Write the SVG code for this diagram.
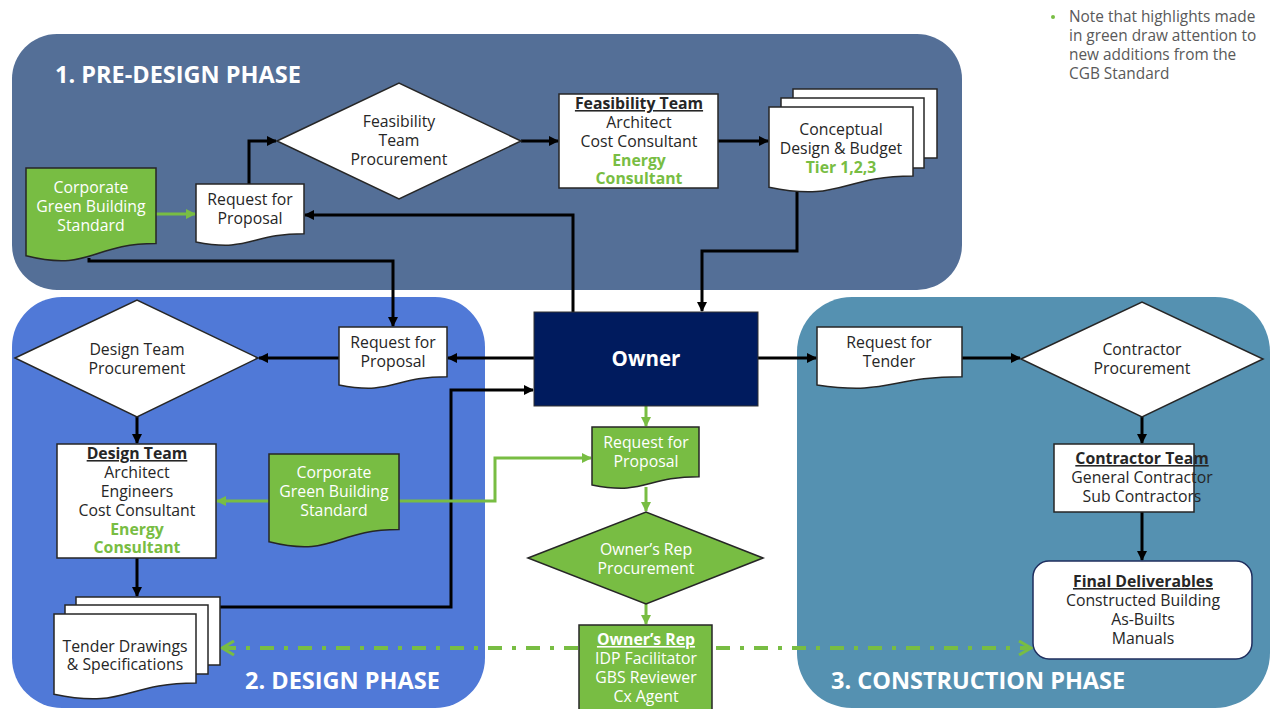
<svg xmlns="http://www.w3.org/2000/svg" width="1270" height="709" viewBox="0 0 1270 709">
  <defs>
    <marker id="arrow" viewBox="0 0 10 10" refX="9" refY="5" markerWidth="10" markerHeight="10" markerUnits="userSpaceOnUse" orient="auto">
      <path d="M0,0 L10,5 L0,10 z" fill="#000"/>
    </marker>
    <marker id="arrowGreen" viewBox="0 0 10 10" refX="9" refY="5" markerWidth="10" markerHeight="10" markerUnits="userSpaceOnUse" orient="auto">
      <path d="M0,0 L10,5 L0,10 z" fill="#78bd43"/>
    </marker>
    <marker id="chevronGreen" viewBox="0 0 16 16" refX="14" refY="8" markerWidth="16" markerHeight="16" markerUnits="userSpaceOnUse" orient="auto-start-reverse">
      <path d="M2,1 L14,8 L2,15" fill="none" stroke="#78bd43" stroke-width="3"/>
    </marker>
  </defs>
  <style>
    text { font-family: "Open Sans", "Liberation Sans", sans-serif; font-size: 15.8px; fill: #262626; text-anchor: middle; }
    .phase { font-size: 23.5px; font-weight: bold; fill: #ffffff; text-anchor: start; }
    .head { font-weight: bold; text-decoration: underline; }
    .hl { font-weight: bold; fill: #78bd43; }
    .wt { fill: #ffffff; }
    .note { font-size: 15.4px; fill: #595959; text-anchor: start; }
    .shape { fill: #ffffff; stroke: #262626; stroke-width: 1.5; }
    .gshape { fill: #78bd43; stroke: #262626; stroke-width: 1.5; }
    .flow { fill: none; stroke: #000; stroke-width: 3; marker-end: url(#arrow); }
    .gflow { fill: none; stroke: #78bd43; stroke-width: 3; marker-end: url(#arrowGreen); }
    .link { fill: none; stroke: #78bd43; stroke-width: 4; stroke-dasharray: 14 10 4 10; marker-start: url(#chevronGreen); marker-end: url(#chevronGreen); }
  </style>

  <rect width="1270" height="709" fill="#ffffff"/>

  <!-- phase panels -->
  <g id="phases">
    <rect x="12" y="34" width="950" height="256" rx="45" fill="#546f97"/>
    <rect x="12" y="297" width="473" height="411" rx="50" fill="#5079d7"/>
    <rect x="797" y="297" width="473" height="411" rx="55" fill="#5591b1"/>
    <text class="phase" x="55" y="83">1. PRE-DESIGN PHASE</text>
    <text class="phase" x="245" y="689">2. DESIGN PHASE</text>
    <text class="phase" x="831" y="689">3. CONSTRUCTION PHASE</text>
  </g>

  <!-- legend note -->
  <g id="note">
    <circle cx="1053" cy="17" r="2" fill="#78bd43"/>
    <text class="note" x="1069" y="22">Note that highlights made<tspan x="1069" dy="19">in green draw attention to</tspan><tspan x="1069" dy="19">new additions from the</tspan><tspan x="1069" dy="19">CGB Standard</tspan></text>
  </g>

  <!-- connectors -->
  <g id="connectors">
    <path class="link" d="M222,648 H1031"/>
    <path class="flow" d="M249,184 V141 H276"/>
    <path class="flow" d="M521,141 H558"/>
    <path class="flow" d="M718,141 H768"/>
    <path class="flow" d="M797,188 V251 H702 V311"/>
    <path class="flow" d="M573,312 V215 H305"/>
    <path class="flow" d="M89,258 V261 H393 V326"/>
    <path class="flow" d="M534,358 H448"/>
    <path class="flow" d="M339,358 H259"/>
    <path class="flow" d="M137,417 V443"/>
    <path class="flow" d="M137,558 V596"/>
    <path class="flow" d="M220,607 H451 V390 H533"/>
    <path class="flow" d="M758,358 H816"/>
    <path class="flow" d="M962,358 H1020"/>
    <path class="flow" d="M1142,417 V443"/>
    <path class="flow" d="M1142,512 V560"/>
    <path class="gflow" d="M156,214 H195"/>
    <path class="gflow" d="M269,501 H217"/>
    <path class="gflow" d="M399,501 H495 V458 H591"/>
    <path class="gflow" d="M646,406 V426"/>
    <path class="gflow" d="M646,487 V511"/>
    <path class="gflow" d="M646,604 V624"/>
  </g>

  <!-- pre-design phase nodes -->
  <g id="cgbs-predesign">
    <path class="gshape" d="M26,168 H156 V243.4 C91,243.4 91,272 26,255.8 Z"/>
    <text class="wt" x="91" y="193">Corporate<tspan x="91" dy="19">Green Building</tspan><tspan x="91" dy="19">Standard</tspan></text>
  </g>
  <g id="rfp-predesign">
    <path class="shape" d="M196,184 H304 V233.7 C250,233.7 250,252.6 196,241.9 Z"/>
    <text x="250" y="205">Request for<tspan x="250" dy="19">Proposal</tspan></text>
  </g>
  <g id="feasibility-procurement">
    <polygon class="shape" points="277,141 399,83 521,141 399,199"/>
    <text x="399" y="127">Feasibility<tspan x="399" dy="19">Team</tspan><tspan x="399" dy="19">Procurement</tspan></text>
  </g>
  <g id="feasibility-team">
    <rect class="shape" x="559" y="94" width="159" height="94"/>
    <text x="639" y="109"><tspan class="head">Feasibility Team</tspan><tspan x="639" dy="19">Architect</tspan><tspan x="639" dy="19">Cost Consultant</tspan><tspan class="hl" x="639" dy="19">Energy</tspan><tspan class="hl" x="639" dy="18">Consultant</tspan></text>
  </g>
  <g id="conceptual-design">
    <rect class="shape" x="793" y="89" width="144" height="69"/>
    <rect class="shape" x="781" y="98" width="143" height="70"/>
    <path class="shape" d="M769,107 H913 V176 C841,176 841,202.2 769,187.3 Z"/>
    <text x="841" y="135">Conceptual<tspan x="841" dy="19">Design &amp; Budget</tspan><tspan class="hl" x="841" dy="19">Tier 1,2,3</tspan></text>
  </g>

  <!-- owner -->
  <g id="owner">
    <rect x="534" y="312" width="224" height="94" fill="#001b5e" stroke="#333" stroke-width="1"/>
    <text x="646" y="366" style="font-size:20.5px;font-weight:bold;fill:#ffffff">Owner</text>
  </g>

  <!-- design phase nodes -->
  <g id="rfp-design">
    <path class="shape" d="M339,327 H447 V376.7 C393,376.7 393,395.6 339,384.9 Z"/>
    <text x="393" y="348">Request for<tspan x="393" dy="19">Proposal</tspan></text>
  </g>
  <g id="design-procurement">
    <polygon class="shape" points="15,358 137,300 258,358 137,417"/>
    <text x="137" y="355">Design Team<tspan x="137" dy="19">Procurement</tspan></text>
  </g>
  <g id="design-team">
    <rect class="shape" x="57" y="444" width="159" height="114"/>
    <text x="137" y="459"><tspan class="head">Design Team</tspan><tspan x="137" dy="19">Architect</tspan><tspan x="137" dy="19">Engineers</tspan><tspan x="137" dy="19">Cost Consultant</tspan><tspan class="hl" x="137" dy="19">Energy</tspan><tspan class="hl" x="137" dy="18">Consultant</tspan></text>
  </g>
  <g id="cgbs-design">
    <path class="gshape" d="M269,454 H399 V529.4 C334,529.4 334,558 269,541.8 Z"/>
    <text class="wt" x="334" y="478">Corporate<tspan x="334" dy="19">Green Building</tspan><tspan x="334" dy="19">Standard</tspan></text>
  </g>
  <g id="tender-drawings">
    <rect class="shape" x="76" y="597" width="144" height="68"/>
    <rect class="shape" x="65" y="605" width="143" height="69"/>
    <path class="shape" d="M54,614 H196 V683 C125,683 125,709.2 54,694.3 Z"/>
    <text x="125" y="652">Tender Drawings<tspan x="125" dy="18">&amp; Specifications</tspan></text>
  </g>

  <!-- owner's rep path -->
  <g id="rfp-owners-rep">
    <path class="gshape" d="M592,427 H699 V476.7 C645.5,476.7 645.5,495.6 592,484.9 Z"/>
    <text class="wt" x="646" y="448">Request for<tspan x="646" dy="19">Proposal</tspan></text>
  </g>
  <g id="owners-rep-procurement">
    <polygon class="gshape" points="528,558 646,512 763,558 646,604"/>
    <text class="wt" x="646" y="555">Owner’s Rep<tspan x="646" dy="19">Procurement</tspan></text>
  </g>
  <g id="owners-rep">
    <rect class="gshape" x="579" y="625" width="133" height="90"/>
    <text class="wt" x="646" y="645"><tspan class="head">Owner’s Rep</tspan><tspan x="646" dy="19">IDP Facilitator</tspan><tspan x="646" dy="19">GBS Reviewer</tspan><tspan x="646" dy="19">Cx Agent</tspan></text>
  </g>

  <!-- construction phase nodes -->
  <g id="rft">
    <path class="shape" d="M817,327 H962 V376.7 C889.5,376.7 889.5,395.6 817,384.9 Z"/>
    <text x="889" y="348">Request for<tspan x="889" dy="19">Tender</tspan></text>
  </g>
  <g id="contractor-procurement">
    <polygon class="shape" points="1021,359 1142,302 1263,359 1142,417"/>
    <text x="1142" y="355">Contractor<tspan x="1142" dy="19">Procurement</tspan></text>
  </g>
  <g id="contractor-team">
    <rect class="shape" x="1054" y="444" width="140" height="68"/>
    <text x="1142" y="464"><tspan class="head">Contractor Team</tspan><tspan x="1142" dy="19">General Contractor</tspan><tspan x="1142" dy="19">Sub Contractors</tspan></text>
  </g>
  <g id="final-deliverables">
    <rect x="1033" y="561" width="219" height="98" rx="16" fill="#ffffff" stroke="#1f2e5e" stroke-width="1.5"/>
    <text x="1143" y="587"><tspan class="head">Final Deliverables</tspan><tspan x="1143" dy="19">Constructed Building</tspan><tspan x="1143" dy="19">As-Builts</tspan><tspan x="1143" dy="19">Manuals</tspan></text>
  </g>
</svg>
